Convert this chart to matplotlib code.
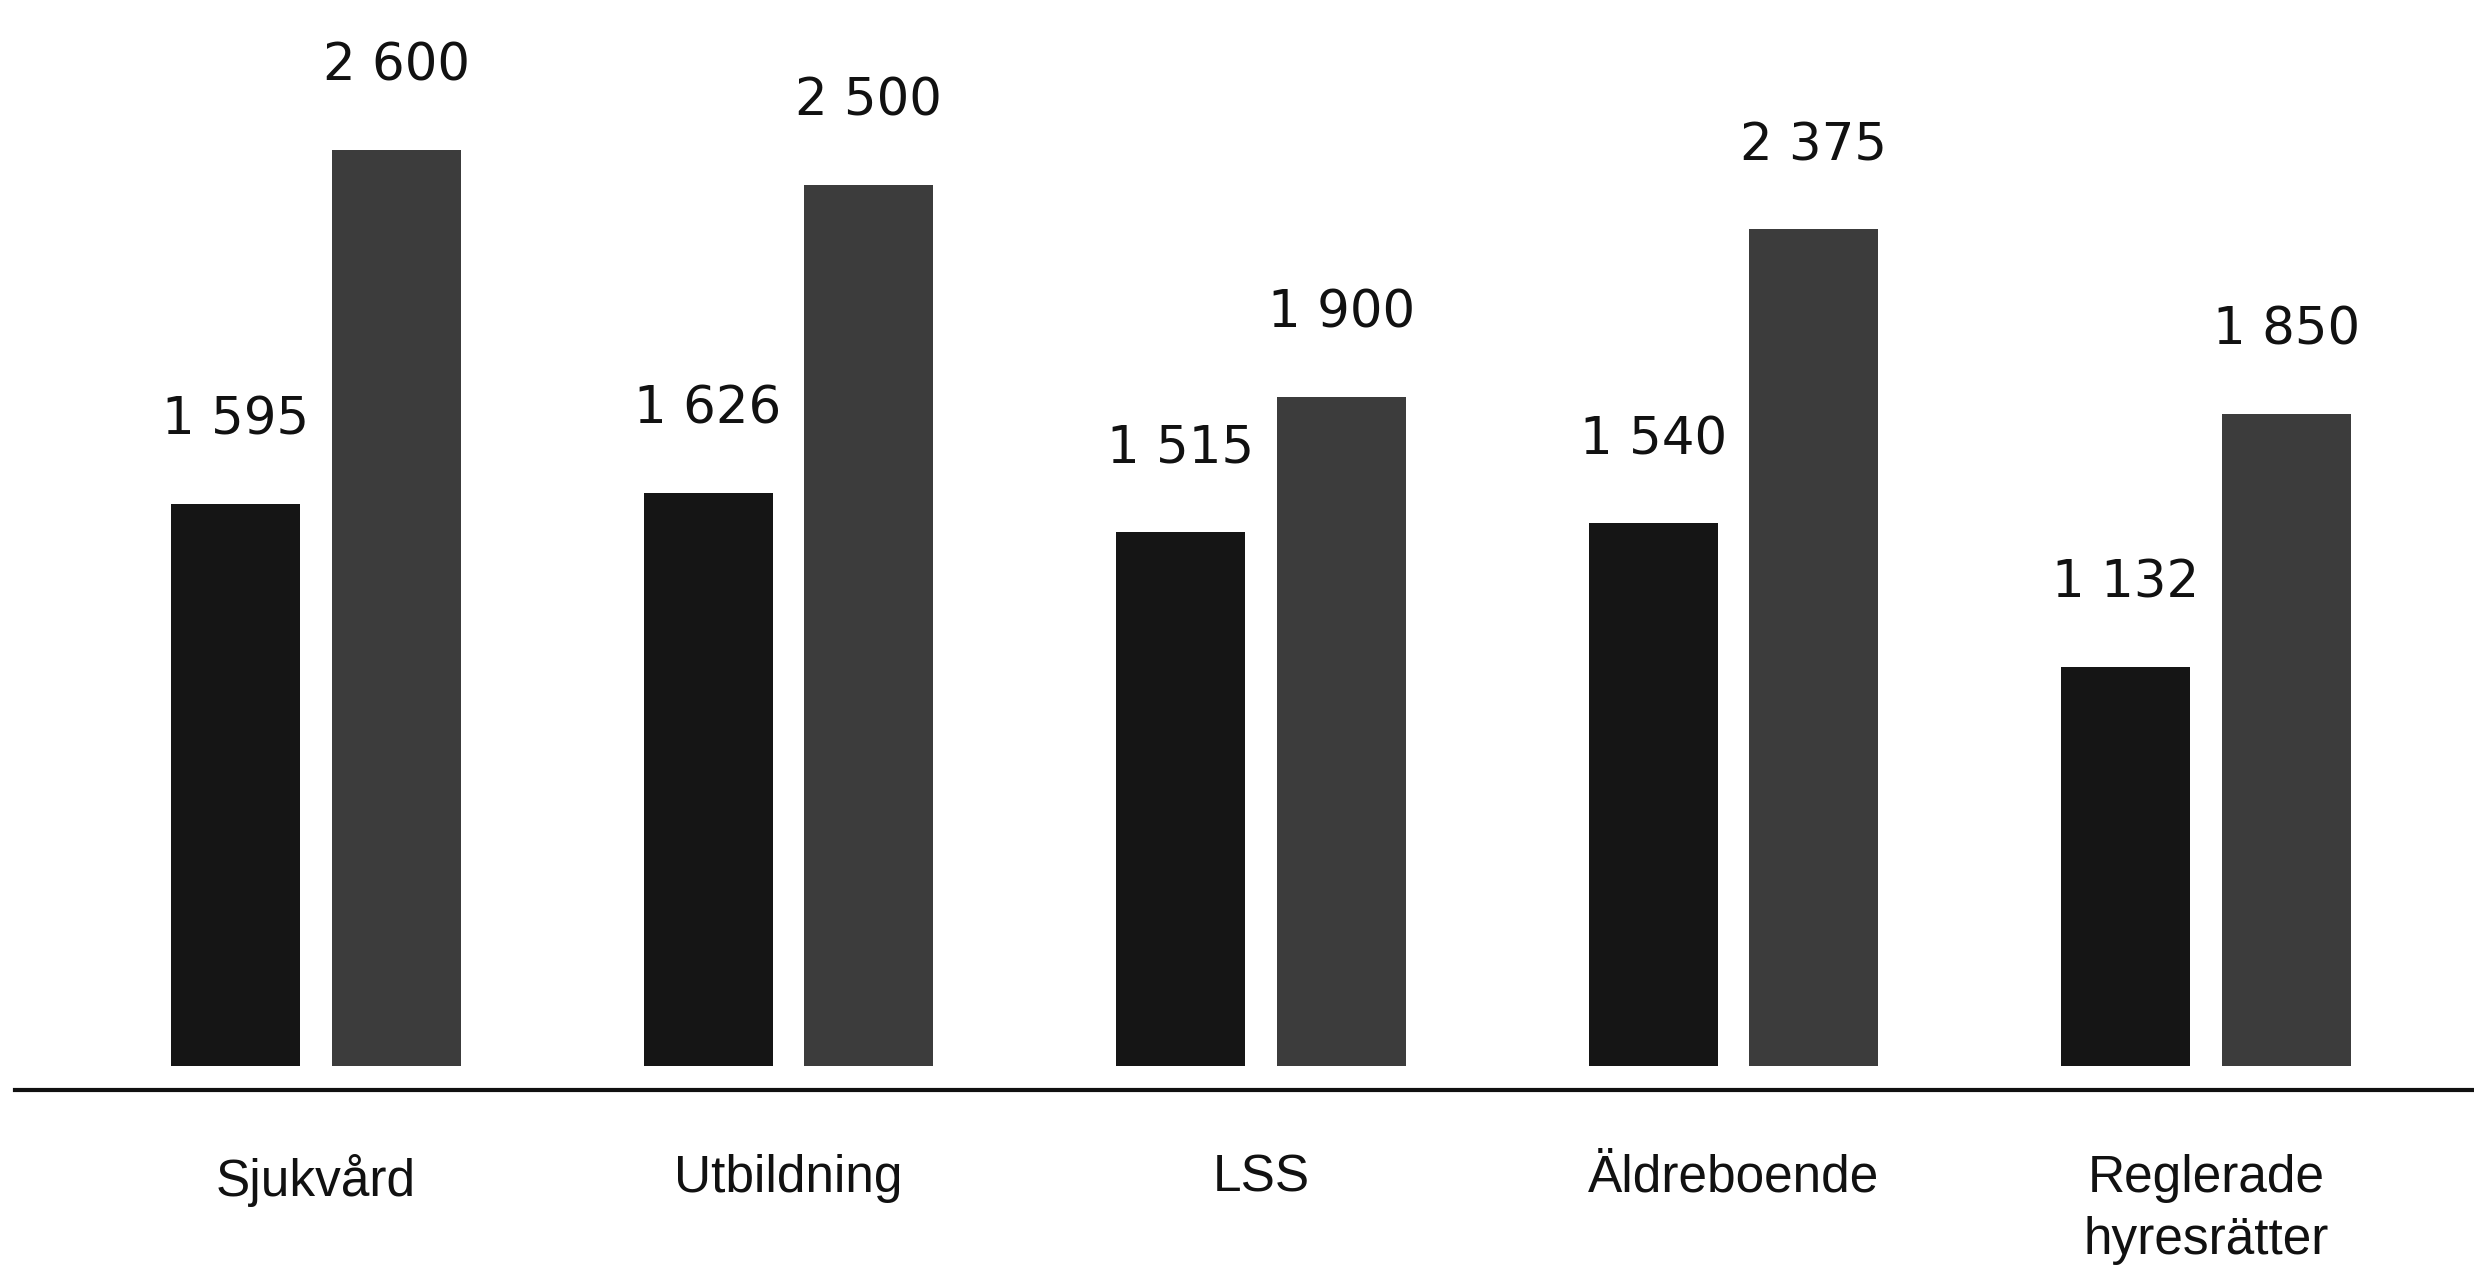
import numpy as np
import matplotlib
matplotlib.use("Agg")
import matplotlib.pyplot as plt

# Data
categories = ['Sjukvård', 'Utbildning', 'LSS', 'Äldreboende', 'Reglerade\nhyresrätter']
series_a = [1595, 1626, 1515, 1540, 1132]
series_b = [2600, 2500, 1900, 2375, 1850]

color_a = '#151515'
color_b = '#3c3c3c'

fig = plt.figure(figsize=(24.74, 12.65), dpi=100)
ax = fig.add_axes([0.006, 0.1573, 0.994, 0.8427])

# Spines först (set_position återställer tickarna)
for s in ['top', 'left', 'right']:
    ax.spines[s].set_visible(False)
ax.spines['bottom'].set_position(('outward', 17))
ax.spines['bottom'].set_linewidth(3)
ax.spines['bottom'].set_color('#111111')

x = np.arange(len(categories))
w = 0.273
off = 0.17
bars_a = ax.bar(x - off, series_a, width=w, color=color_a)
bars_b = ax.bar(x + off, series_b, width=w, color=color_b)

# Värdeetiketter med mellanslag som tusentalsavgränsare
for bars, vals in [(bars_a, series_a), (bars_b, series_b)]:
    for b, v in zip(bars, vals):
        ax.annotate(f"{v:,}".replace(',', ' '),
                    (b.get_x() + b.get_width() / 2, v),
                    xytext=(0, 42), textcoords='offset points',
                    ha='center', va='bottom', fontsize=37,
                    family=['DejaVu Sans'], color='#111111')

ax.set_xlim(-0.637, 4.567)
ax.set_ylim(0, 3026)
ax.tick_params(axis='x', length=0, pad=46, colors='#111111', labelsize=37)
ax.set_xticks(x)
ax.set_xticklabels(categories, family=['Liberation Sans', 'DejaVu Sans'],
                   fontsize=37, linespacing=1.35)
ax.set_yticks([])

fig.savefig('out.png', dpi=100)
